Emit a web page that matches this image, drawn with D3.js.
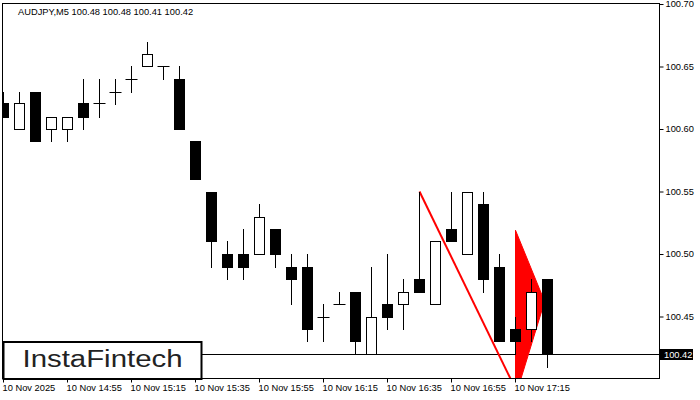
<!DOCTYPE html>
<html><head><meta charset="utf-8">
<script src="https://cdn.jsdelivr.net/npm/d3@7"></script>
<style>
html,body{margin:0;padding:0;background:#fff;}
svg{display:block;}
text{font-family:"Liberation Sans",Arial,sans-serif;}
</style></head>
<body>
<svg id="chart" width="700" height="400"></svg>
<script>
// ---- data ----
const title = "AUDJPY,M5  100.48 100.48 100.41 100.42";
const times = ["14:35","14:40","14:45","14:50","14:55","15:00","15:05","15:10","15:15","15:20","15:25","15:30","15:35","15:40","15:45","15:50","15:55","16:00","16:05","16:10","16:15","16:20","16:25","16:30","16:35","16:40","16:45","16:50","16:55","17:00","17:05","17:10","17:15","17:20","17:25"];
const opens  = [100.621,100.600,100.630,100.600,100.600,100.621,100.621,100.630,100.640,100.650,100.650,100.640,100.590,100.550,100.500,100.500,100.500,100.520,100.490,100.490,100.450,100.460,100.470,100.420,100.460,100.460,100.480,100.460,100.520,100.500,100.540,100.490,100.440,100.440,100.480];
const highs  = [100.630,100.630,100.630,100.610,100.610,100.640,100.640,100.640,100.650,100.670,100.650,100.650,100.590,100.550,100.510,100.520,100.540,100.520,100.500,100.500,100.460,100.470,100.470,100.490,100.500,100.480,100.550,100.510,100.550,100.550,100.550,100.500,100.450,100.480,100.480];
const lows   = [100.610,100.600,100.590,100.590,100.590,100.600,100.610,100.620,100.630,100.650,100.640,100.600,100.560,100.490,100.480,100.480,100.500,100.490,100.460,100.430,100.430,100.460,100.420,100.420,100.440,100.440,100.470,100.460,100.510,100.500,100.470,100.430,100.420,100.430,100.410];
const closes = [100.610,100.621,100.590,100.610,100.610,100.610,100.621,100.630,100.640,100.660,100.650,100.600,100.560,100.510,100.490,100.490,100.530,100.500,100.480,100.440,100.450,100.460,100.430,100.450,100.450,100.470,100.470,100.510,100.510,100.550,100.480,100.430,100.430,100.470,100.420];
const priceTicks = [100.45,100.50,100.55,100.60,100.65,100.70];
const timeTickIdx = [0,4,8,12,16,20,24,28,32];
const timeTickLabels = ["10 Nov 2025","10 Nov 14:55","10 Nov 15:15","10 Nov 15:35","10 Nov 15:55","10 Nov 16:15","10 Nov 16:35","10 Nov 16:55","10 Nov 17:15"];
const lastPrice = 100.42;
// pattern: flagpole line and pennant triangle (index, price)
const poleIdx = [26, 32];
const polePrice = [100.550, 100.392];
const pennantIdx = [32, 33.82, 32];
const pennantPrice = [100.519, 100.462, 100.386];
const logoText = "InstaFintech";

// ---- layout ----
const L = 2.5, R = 659.5, T = 3.5, B = 378.5;
const svg = d3.select("#chart");
const x = d3.scaleLinear().domain([0, 34]).range([3.5, 547.5]);
const y = d3.scaleLinear().domain([100.45, 100.70]).range([316.5, 4]);
const px = v => Math.round(v) + 0.5;
const py = v => Math.round(y(v)) + 0.5;

svg.append("defs").append("clipPath").attr("id","plot")
  .append("rect").attr("x", L).attr("y", T).attr("width", R - L).attr("height", B - T);

const g = svg.append("g").attr("clip-path","url(#plot)");

const candles = times.map((t,i)=>({i, o:opens[i], h:highs[i], l:lows[i], c:closes[i]}));

// last price line
g.append("line").attr("x1", L).attr("x2", R).attr("y1", py(lastPrice)).attr("y2", py(lastPrice))
  .attr("stroke","#000").attr("stroke-width",1);

// pennant triangle
const tri = pennantIdx.map((v,k)=>[x(v), y(pennantPrice[k])]);
g.append("path").attr("d", d3.line()(tri) + "Z").attr("fill","#ff0000").attr("stroke","#ff0000").attr("stroke-width",1);

// flagpole
g.append("line")
  .attr("x1", x(poleIdx[0])).attr("y1", y(polePrice[0]))
  .attr("x2", x(poleIdx[1])).attr("y2", y(polePrice[1]))
  .attr("stroke","#ff0000").attr("stroke-width",2);

// candles
const cg = g.selectAll("g.c").data(candles).join("g").attr("class","c");
cg.append("line")
  .attr("x1", d=>px(x(d.i)-0.5)).attr("x2", d=>px(x(d.i)-0.5))
  .attr("y1", d=>py(d.h)-0.5).attr("y2", d=>py(d.l)+0.5)
  .attr("stroke","#000").attr("stroke-width",1);
cg.each(function(d){
  const s = d3.select(this);
  const cx = x(d.i) - 0.5;
  const top = Math.round(y(Math.max(d.o,d.c)));
  const bot = Math.round(y(Math.min(d.o,d.c)));
  if (d.o === d.c) {
    s.append("line").attr("x1", cx-5.5).attr("x2", cx+5.5+1)
      .attr("y1", top+0.5).attr("y2", top+0.5).attr("stroke","#000");
  } else if (d.c < d.o) {
    s.append("rect").attr("x", cx-5).attr("y", top).attr("width", 11).attr("height", bot-top+1)
      .attr("fill","#000");
  } else {
    s.append("rect").attr("x", cx-4.5).attr("y", top+0.5).attr("width", 10).attr("height", bot-top)
      .attr("fill","#fff").attr("stroke","#000").attr("stroke-width",1);
  }
});

// frame
svg.append("rect").attr("x", L).attr("y", T).attr("width", R-L).attr("height", B-T)
  .attr("fill","none").attr("stroke","#000").attr("stroke-width",1);

// right axis
const ya = d3.axisRight(y).tickValues(priceTicks).tickFormat(d3.format(".2f")).tickSize(4).tickPadding(2);
const yg = svg.append("g").attr("transform", `translate(${R},0)`).call(ya);
yg.select(".domain").remove();
yg.selectAll("line").attr("stroke","#000");
yg.selectAll("text").attr("font-size","9.3px").attr("fill","#000").attr("font-family","Liberation Sans, Arial, sans-serif");

// bottom axis
const xa = d3.axisBottom(x).tickValues(timeTickIdx).tickFormat((d,k)=>timeTickLabels[k]).tickSize(4).tickPadding(2);
const xg = svg.append("g").attr("transform", `translate(0,${B})`).call(xa);
xg.select(".domain").remove();
xg.selectAll(".tick").attr("transform", d=>`translate(${px(x(d)-0.5)},0)`);
xg.selectAll("line").attr("stroke","#000");
xg.selectAll("text").attr("text-anchor","start").attr("x",-1).attr("font-size","9.3px").attr("fill","#000")
  .attr("font-family","Liberation Sans, Arial, sans-serif");

// last price label
const lp = py(lastPrice);
svg.append("rect").attr("x", 660).attr("y", lp-5.5).attr("width", 33).attr("height", 11).attr("fill","#000");
svg.append("text").attr("x", 664).attr("y", lp+3.3).attr("fill","#fff").attr("font-size","9.3px").text(d3.format(".2f")(lastPrice));

// title
svg.append("text").attr("x", 18).attr("y", 15).attr("font-size","9.3px").attr("fill","#000").text(title);

// logo
svg.append("rect").attr("x", 3.5).attr("y", 342).attr("width", 198).attr("height", 37)
  .attr("fill","#fff").attr("stroke","#000").attr("stroke-width",2);
svg.append("text").attr("x", 102.5).attr("y", 367).attr("text-anchor","middle")
  .attr("font-family","Inter, Lato, sans-serif").attr("font-weight",500).attr("font-size","23px")
  .attr("fill","#222").attr("textLength",160).attr("lengthAdjust","spacingAndGlyphs").text(logoText);
</script>
</body></html>
